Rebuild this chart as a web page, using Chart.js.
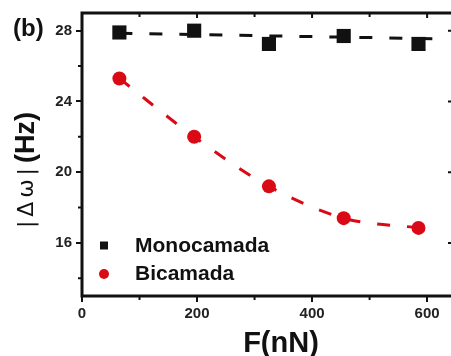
<!DOCTYPE html>
<html>
<head>
<meta charset="utf-8">
<script src="https://cdn.jsdelivr.net/npm/chart.js@4"></script>
<style>
  html, body { margin: 0; padding: 0; background: #fff; overflow: hidden; }
  #wrap { width: 451px; height: 356px; overflow: hidden; position: relative; background: #fff; }
  canvas { display: block; }
</style>
</head>
<body>
<div id="wrap"><canvas id="c" width="463" height="356"></canvas></div>
<script>
// Applied force (nN) and frequency shift |Δω| (Hz)
const forceNN = [65, 195, 325, 455, 585];
const monocamada = [27.9, 28.0, 27.25, 27.7, 27.25];
const bicamada = [25.3, 22.0, 19.2, 17.4, 16.85];

// Straight trend line for the single-layer series
const monoTrendX = [65, 610];
const monoTrendY = [27.85, 27.55];

// Axis ticks
const xTicks = [0, 200, 400, 600];
const xMinorTicks = [100, 300, 500];
const yTicks = [16, 20, 24, 28];
const yMinorTicks = [14, 18, 22, 26];

const INK = '#111';
const RED = '#d90a16';
const SANS = '"Liberation Sans", Arial, sans-serif';

const pts = (xs, ys) => xs.map((x, i) => ({ x, y: ys[i] }));

// Frame, minor ticks, inner ticks, titles and legend
const decorations = {
  id: 'decorations',
  afterDraw(chart) {
    const { ctx, chartArea: a, scales: { x, y } } = chart;
    ctx.save();
    ctx.strokeStyle = INK;
    ctx.lineWidth = 3;
    ctx.strokeRect(a.left, a.top, a.right - a.left, a.bottom - a.top);

    ctx.lineWidth = 2;
    ctx.beginPath();
    // left minor ticks (outward)
    yMinorTicks.forEach(v => { const p = y.getPixelForValue(v); ctx.moveTo(a.left - 4, p); ctx.lineTo(a.left, p); });
    // right ticks (inward)
    yTicks.forEach(v => { const p = y.getPixelForValue(v); ctx.moveTo(a.right - 5, p); ctx.lineTo(a.right, p); });
    // bottom minor ticks (outward)
    xMinorTicks.forEach(v => { const p = x.getPixelForValue(v); ctx.moveTo(p, a.bottom); ctx.lineTo(p, a.bottom + 4); });
    // top ticks (inward)
    xTicks.concat(xMinorTicks).forEach(v => {
      if (v === 0) return;
      const p = x.getPixelForValue(v);
      const len = xTicks.includes(v) ? 5 : 4;
      ctx.moveTo(p, a.top); ctx.lineTo(p, a.top + len);
    });
    ctx.stroke();

    ctx.fillStyle = INK;
    // panel tag
    ctx.font = 'bold 24px ' + SANS;
    ctx.textAlign = 'left';
    ctx.textBaseline = 'alphabetic';
    ctx.fillText('(b)', 13, 36);

    // x axis title
    ctx.font = 'bold 29px ' + SANS;
    ctx.textAlign = 'center';
    ctx.fillText('F(nN)', 281, 352);

    // y axis title: symbol part then unit
    ctx.save();
    ctx.translate(33, 228);
    ctx.rotate(-Math.PI / 2);
    ctx.textAlign = 'left';
    ctx.font = '22px "DejaVu Sans", sans-serif';
    const sym = ['|', 'Δ', 'ω', '|'];
    const widths = sym.map(s => ctx.measureText(s).width);
    const total = widths.reduce((s, w) => s + w, 0);
    const gap = Math.max(0, (60 - total) / (sym.length - 1));
    let px = 0;
    sym.forEach((s, i) => { ctx.fillText(s, px, 0); px += widths[i] + gap; });
    ctx.font = 'bold 27px ' + SANS;
    ctx.fillText('(Hz)', 65, 1);
    ctx.restore();

    // legend
    const items = chart.data.datasets.filter(d => d.inLegend);
    const rows = [252, 280];
    items.forEach((d, i) => {
      const cy = rows[i] - 6.5;
      ctx.fillStyle = d.backgroundColor;
      if (d.pointStyle === 'rect') {
        ctx.fillRect(100, cy - 4, 8, 8);
      } else {
        ctx.beginPath(); ctx.arc(104, cy + 0.5, 5, 0, Math.PI * 2); ctx.fill();
      }
      ctx.fillStyle = INK;
      ctx.font = 'bold 21px ' + SANS;
      ctx.textAlign = 'left';
      ctx.fillText(d.label, 135, rows[i]);
    });
    ctx.restore();
  }
};

new Chart(document.getElementById('c'), {
  type: 'scatter',
  data: {
    datasets: [
      {
        label: 'Monocamada', inLegend: true,
        data: pts(forceNN, monocamada),
        pointStyle: 'rect', pointRadius: 10, pointHoverRadius: 10,
        backgroundColor: INK, borderColor: INK, borderWidth: 0,
        showLine: false, order: 0
      },
      {
        label: 'Bicamada', inLegend: true,
        data: pts(forceNN, bicamada),
        pointStyle: 'circle', pointRadius: 7, pointHoverRadius: 7,
        backgroundColor: RED, borderColor: RED, borderWidth: 0,
        showLine: false, order: 0
      },
      {
        label: 'Monocamada trend',
        data: pts(monoTrendX, monoTrendY),
        showLine: true, pointRadius: 0,
        borderColor: INK, borderWidth: 3, borderDash: [13, 17],
        order: 1
      },
      {
        label: 'Bicamada trend',
        data: pts(forceNN, bicamada),
        showLine: true, pointRadius: 0,
        borderColor: RED, borderWidth: 3, borderDash: [13, 17],
        cubicInterpolationMode: 'monotone',
        order: 1
      }
    ]
  },
  options: {
    responsive: false,
    animation: false,
    devicePixelRatio: 1,
    layout: { padding: { left: 0, top: 13, right: 5, bottom: 0 } },
    plugins: { legend: { display: false }, tooltip: { enabled: false } },
    scales: {
      x: {
        type: 'linear', min: 0, max: 645,
        afterBuildTicks: s => { s.ticks = xTicks.map(v => ({ value: v })); },
        afterFit: s => { s.height = 60; },
        grid: { display: true, drawOnChartArea: false, drawTicks: true, tickLength: 6, color: INK, lineWidth: 2 },
        border: { display: false },
        ticks: { color: '#222', padding: 3, maxRotation: 0, font: { family: SANS, size: 15, weight: 'bold' } }
      },
      y: {
        type: 'linear', min: 13, max: 29,
        afterBuildTicks: s => { s.ticks = yTicks.map(v => ({ value: v })); },
        afterFit: s => { s.width = 82; },
        grid: { display: true, drawOnChartArea: false, drawTicks: true, tickLength: 6, color: INK, lineWidth: 2 },
        border: { display: false },
        ticks: { color: '#222', padding: 4, font: { family: SANS, size: 15, weight: 'bold' } }
      }
    }
  },
  plugins: [decorations]
});
</script>
</body>
</html>
